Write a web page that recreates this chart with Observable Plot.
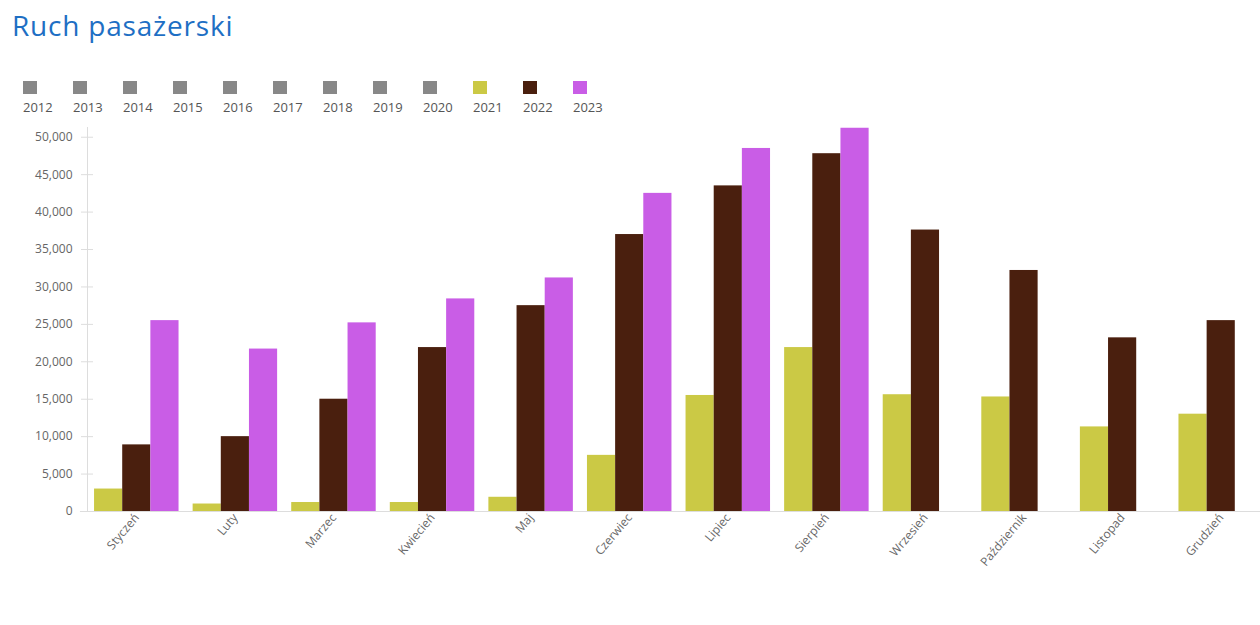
<!DOCTYPE html>
<html>
<head>
<meta charset="utf-8">
<script src="https://cdn.jsdelivr.net/npm/d3@7"></script>
<script src="https://cdn.jsdelivr.net/npm/@observablehq/plot@0.6"></script>
<style>
  html, body { margin: 0; padding: 0; background: #fff; overflow: hidden; width: 1260px; height: 625px; }
  body { font-family: "Open Sans", sans-serif; position: relative; }
  #title { position: absolute; left: 12px; top: 6px; font-size: 28px; color: #1e6fc4; font-weight: 400; letter-spacing: 0.8px; }
  #legend { position: absolute; left: 23px; top: 81px; display: flex; }
  .item { width: 50px; }
  .sw { width: 14px; height: 13px; }
  .lb { font-size: 13px; color: #555; margin-top: 5px; line-height: 16px; }
  #chart { position: absolute; left: 0; top: 121px; }
</style>
</head>
<body>
<div id="title">Ruch pasażerski</div>
<div id="legend"></div>
<div id="chart"></div>
<script>
const months = ["Styczeń","Luty","Marzec","Kwiecień","Maj","Czerwiec","Lipiec","Sierpień","Wrzesień","Październik","Listopad","Grudzień"];
const values2021 = [3000, 1000, 1200, 1200, 1900, 7500, 15500, 21900, 15600, 15300, 11300, 13000];
const values2022 = [8900, 10000, 15000, 21900, 27500, 37000, 43500, 47800, 37600, 32200, 23200, 25500];
const values2023 = [25500, 21700, 25200, 28400, 31200, 42500, 48500, 51200];
const barYears = [2021, 2022, 2023];
const legendYears = [2012, 2013, 2014, 2015, 2016, 2017, 2018, 2019, 2020, 2021, 2022, 2023];
const legendColors = ["#888888","#888888","#888888","#888888","#888888","#888888","#888888","#888888","#888888","#cbc945","#4a1f0e","#c95de6"];
const yTicks = [0, 5000, 10000, 15000, 20000, 25000, 30000, 35000, 40000, 45000, 50000];

// legend
const legend = document.getElementById("legend");
legendYears.forEach((yr, i) => {
  const it = document.createElement("div");
  it.className = "item";
  it.innerHTML = `<div class="sw" style="background:${legendColors[i]}"></div><div class="lb">${yr}</div>`;
  legend.appendChild(it);
});

const series = [values2021, values2022, values2023];
const data = [];
series.forEach((vals, si) => {
  vals.forEach((v, mi) => data.push({month: months[mi], year: barYears[si], value: v}));
});

const barColors = legendColors.slice(9);

const W = 1260, ML = 87, MR = -10;
const padIn = 0.143, padOut = 0.0715;
// offset of the first facet from the plot's left edge (facets are translated by it)
const facetShift = padOut * (W - MR - ML) / months.length;

const chart = Plot.plot({
  width: W,
  height: 500,
  marginLeft: ML,
  marginRight: MR,
  marginTop: 6,
  marginBottom: 110,
  style: {fontFamily: "'Open Sans', sans-serif", fontSize: "12px", color: "#666", background: "transparent"},
  fx: {domain: months, paddingInner: padIn, paddingOuter: padOut, round: false, label: null, axis: null},
  x: {domain: barYears, padding: 0, round: false, axis: null},
  y: {domain: [0, 51300], label: null, axis: null},
  color: {domain: barYears, range: barColors},
  marks: [
    Plot.frame({anchor: "left", stroke: "#dddddd", facetAnchor: "left", dx: -facetShift}),
    Plot.ruleY([0], {stroke: "#dddddd", insetLeft: -2 * facetShift, insetRight: -facetShift - 1}),
    Plot.axisY({ticks: yTicks, tickSize: 12, dx: 6 - facetShift, text: null, stroke: "#dddddd"}),
    Plot.axisY({ticks: yTicks, tickSize: 0, tickPadding: 15, dx: -facetShift, tickFormat: d3.format(","), label: null, fill: "#666", fontSize: 12}),
    Plot.barY(data, {fx: "month", x: "year", y: "value", fill: "year"}),
    Plot.axisFx({anchor: "bottom", tickRotate: -50, tickSize: 0, tickPadding: 4, label: null, fill: "#666", fontSize: 12})
  ]
});
document.getElementById("chart").appendChild(chart);
</script>
</body>
</html>
